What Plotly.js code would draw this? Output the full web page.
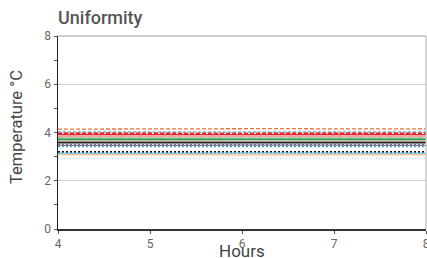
<!DOCTYPE html>
<html>
<head>
<meta charset="utf-8">
<script src="https://cdn.plot.ly/plotly-3.0.1.min.js"></script>
<style>html,body{margin:0;padding:0;background:#fff;}#chart{width:427px;height:258px;}</style>
</head>
<body>
<div id="chart"></div>
<script>
var hours = [4, 4.5, 5, 5.5, 6, 6.5, 7, 7.5, 8];
var probeNames = ["P1","P2","P3","P4","P5","P6","P7","P8","P9","P10","P11","P12","P13","P14","P15","P16","P17","P18","P19"];
var p1  = [4.14, 4.15, 4.15, 4.16, 4.15, 4.16, 4.15, 4.14, 4.15];
var p2  = [4.04, 4.03, 4.04, 4.03, 4.03, 4.04, 4.03, 4.03, 4.04];
var p3  = [4.00, 4.00, 4.01, 4.00, 3.99, 4.00, 4.01, 4.00, 4.00];
var p4  = [3.96, 3.95, 3.96, 3.96, 3.95, 3.96, 3.95, 3.96, 3.96];
var p5  = [3.90, 3.89, 3.90, 3.90, 3.89, 3.90, 3.91, 3.90, 3.89];
var p6  = [3.85, 3.85, 3.84, 3.85, 3.86, 3.85, 3.84, 3.85, 3.85];
var p7  = [3.80, 3.81, 3.80, 3.79, 3.80, 3.81, 3.80, 3.80, 3.79];
var p8  = [3.76, 3.76, 3.75, 3.76, 3.77, 3.76, 3.75, 3.76, 3.76];
var p9  = [3.72, 3.72, 3.73, 3.72, 3.71, 3.72, 3.73, 3.72, 3.72];
var p10 = [3.66, 3.67, 3.66, 3.66, 3.65, 3.66, 3.67, 3.66, 3.66];
var p11 = [3.62, 3.62, 3.61, 3.62, 3.63, 3.62, 3.61, 3.62, 3.62];
var p12 = [3.57, 3.57, 3.58, 3.57, 3.57, 3.56, 3.57, 3.58, 3.57];
var p13 = [3.50, 3.51, 3.50, 3.49, 3.50, 3.51, 3.50, 3.49, 3.50];
var p14 = [3.47, 3.46, 3.47, 3.47, 3.48, 3.47, 3.46, 3.47, 3.47];
var p15 = [3.42, 3.42, 3.43, 3.42, 3.41, 3.42, 3.43, 3.42, 3.42];
var p16 = [3.18, 3.18, 3.17, 3.18, 3.19, 3.18, 3.17, 3.18, 3.18];
var p17 = [3.14, 3.13, 3.14, 3.14, 3.15, 3.14, 3.13, 3.14, 3.14];
var p18 = [3.08, 3.09, 3.08, 3.08, 3.07, 3.08, 3.09, 3.08, 3.08];
var p19 = [2.93, 2.93, 2.94, 2.93, 2.92, 2.93, 2.94, 2.93, 2.93];
var probeValues = [p1,p2,p3,p4,p5,p6,p7,p8,p9,p10,p11,p12,p13,p14,p15,p16,p17,p18,p19];
var xTicks = [4, 5, 6, 7, 8];
var yTicks = [0, 2, 4, 6, 8];
var yMinorTicks = [1, 3, 5, 7];

var styles = [
  {c:'#e8743b', d:'4px,2px', w:1.3},
  {c:'#9cc9e6', d:'3px,2px', w:1.5},
  {c:'#b0b0b0', d:'3px,2px', w:1.2},
  {c:'#e3262a', d:'4px,2px', w:2},
  {c:'#e8262b', d:'solid', w:2.5},
  {c:'#f4a3a8', d:'solid', w:2},
  {c:'#f28e8e', d:'5px,2px,1px,2px', w:1.5},
  {c:'#9fd4a8', d:'solid', w:2},
  {c:'#2ca25f', d:'solid', w:1.5},
  {c:'#c8b89a', d:'solid', w:1.5},
  {c:'#999999', d:'solid', w:1.2},
  {c:'#222222', d:'solid', w:1.5},
  {c:'#c0504d', d:'2px,2px', w:1.5},
  {c:'#6a7fa8', d:'solid', w:1.2},
  {c:'#4aa3b5', d:'2px,2px', w:1.5},
  {c:'#111111', d:'2px,2px', w:2.5},
  {c:'#7ec8e3', d:'solid', w:1.5},
  {c:'#f8c89a', d:'solid', w:1.5},
  {c:'#a6c8ec', d:'1px,2px', w:1}
];

var traces = probeValues.map(function(v, i){
  return {x: hours, y: v, name: probeNames[i], type: 'scatter', mode: 'lines',
    line: {color: styles[i].c, dash: styles[i].d, width: styles[i].w}};
});

var layout = {
  width: 427, height: 258,
  margin: {l: 58, r: 1, t: 36, b: 29},
  paper_bgcolor: '#fff', plot_bgcolor: '#fff',
  showlegend: false,
  font: {family: 'Roboto, sans-serif', color: '#555'},
  title: {text: 'Uniformity', x: 0, xref: 'paper', xanchor: 'left', y: 1, yref: 'container', yanchor: 'top', pad: {t: 11},
    font: {size: 18, color: '#555', family: 'Roboto, sans-serif', weight: 500}},
  xaxis: {range: [4, 8], tickvals: xTicks, ticks: 'outside', ticklen: 3, tickcolor: '#555',
    ticklabeloverflow: 'allow',
    showline: true, linecolor: '#333', linewidth: 1.5, mirror: false, showgrid: false, zeroline: false,
    tickfont: {size: 12, color: '#666'}},
  yaxis: {range: [0, 8], tickvals: yTicks, ticks: 'outside', ticklen: 3, tickcolor: '#555',
    minor: {tickvals: yMinorTicks, ticks: 'outside', ticklen: 3, tickcolor: '#555', showgrid: false},
    showline: true, linecolor: '#222', linewidth: 1.5, showgrid: true, gridcolor: '#d0d0d0', zeroline: false,
    tickfont: {size: 12, color: '#666'}},
  annotations: [
    {text: 'Hours', xref: 'paper', yref: 'paper', x: 0.5, y: -0.113, xanchor: 'center', yanchor: 'middle',
      showarrow: false, font: {size: 17, color: '#444', family: 'Roboto, sans-serif'}},
    {text: 'Temperature °C', xref: 'paper', yref: 'paper', x: -0.113, y: 0.53, xanchor: 'center', yanchor: 'middle',
      textangle: -90, showarrow: false, font: {size: 16.5, color: '#444', family: 'Roboto, sans-serif'}}
  ],
  shapes: [
    {type: 'line', xref: 'paper', yref: 'paper', x0: 0, x1: 1, y0: 1, y1: 1, line: {color: '#999', width: 1.2}},
    {type: 'line', xref: 'paper', yref: 'paper', x0: 1, x1: 1, y0: 0, y1: 1, line: {color: '#bbb', width: 1.2}}
  ]
};

Plotly.newPlot('chart', traces, layout, {displayModeBar: false, staticPlot: true});
</script>
</body>
</html>
